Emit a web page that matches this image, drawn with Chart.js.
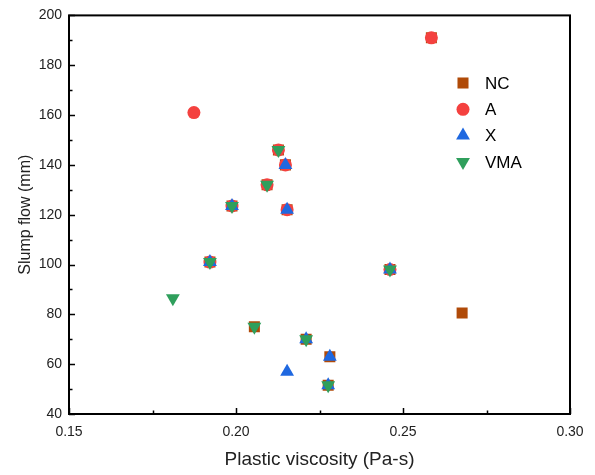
<!DOCTYPE html>
<html lang="en">
<head>
<meta charset="UTF-8">
<title>Slump flow vs plastic viscosity</title>
<script src="https://cdn.jsdelivr.net/npm/chart.js"></script>
<style>
  html, body { margin: 0; padding: 0; background: #fff; }
  #wrap { width: 595px; height: 475px; }
</style>
</head>
<body>
<div id="wrap"><canvas id="chart" width="595" height="475"></canvas></div>
<script>
// Plastic viscosity (Pa-s) and slump flow (mm) for each mix group
const ncVisc   = [0.2585, 0.2127, 0.2148, 0.2093, 0.1988, 0.2153, 0.1922, 0.2055, 0.2210, 0.2281, 0.2461, 0.2677, 0.2276];
const ncSlump  = [191, 146, 140, 132, 123.5, 122, 101, 75, 70, 63, 98, 80.5, 51.5];
const aVisc    = [0.2585, 0.1874, 0.2127, 0.2148, 0.2093, 0.1988, 0.2153, 0.1922, 0.2461];
const aSlump   = [191, 161, 146, 140, 132, 123.5, 122, 101, 98];
const xVisc    = [0.2148, 0.1988, 0.2153, 0.1922, 0.2210, 0.2281, 0.2153, 0.2276, 0.2461];
const xSlump   = [140, 123.5, 122, 101, 70, 63, 57, 51.5, 98];
const vmaVisc  = [0.2127, 0.2093, 0.1988, 0.1922, 0.1811, 0.2055, 0.2210, 0.2276, 0.2461];
const vmaSlump = [146, 132, 123.5, 101, 86.5, 75, 70, 51.5, 98];

const xTicks = [0.15, 0.20, 0.25, 0.30];
const yTicks = [40, 60, 80, 100, 120, 140, 160, 180, 200];

const FONT = "'Liberation Sans', Arial, sans-serif";

function pts(xs, ys) {
  return xs.map((x, i) => ({ x: x, y: ys[i] }));
}

// later groups are painted over earlier ones
const series = [
  { label: "NC",  data: pts(ncVisc, ncSlump),   color: "#b04a08", style: "rect",     radius: 7.8, rotation: 0 },
  { label: "A",   data: pts(aVisc, aSlump),     color: "#f4413f", style: "circle",   radius: 6.5, rotation: 0 },
  { label: "X",   data: pts(xVisc, xSlump),     color: "#1f68e0", style: "triangle", radius: 8,   rotation: 0 },
  { label: "VMA", data: pts(vmaVisc, vmaSlump), color: "#2f9f5c", style: "triangle", radius: 8,   rotation: 180 }
];

function drawShape(ctx, s, x, y) {
  const r = s.radius;
  if (s.style === "rect") {
    const h = r / Math.SQRT2;
    ctx.rect(x - h, y - h, 2 * h, 2 * h);
  } else if (s.style === "circle") {
    ctx.arc(x, y, r, 0, Math.PI * 2);
  } else {
    let ang = s.rotation * Math.PI / 180;
    for (let k = 0; k < 3; k++) {
      const px = x + Math.sin(ang) * r, py = y - Math.cos(ang) * r;
      if (k === 0) ctx.moveTo(px, py); else ctx.lineTo(px, py);
      ang += 2 * Math.PI / 3;
    }
    ctx.closePath();
  }
}

// frame, inward ticks and legend
const framePlugin = {
  id: "frame",
  afterDraw(chart) {
    const ctx = chart.ctx;
    const a = chart.chartArea;
    const xs = chart.scales.x, ys = chart.scales.y;
    ctx.save();
    ctx.strokeStyle = "#000";
    ctx.lineWidth = 2;
    ctx.strokeRect(a.left, a.top, a.right - a.left, a.bottom - a.top);

    ctx.lineWidth = 1.5;
    ctx.beginPath();
    for (let i = 0; i <= 6; i++) {
      const v = 0.15 + i * 0.025;
      const px = Math.round(xs.getPixelForValue(v)) + 0.5;
      ctx.moveTo(px, a.bottom);
      ctx.lineTo(px, a.bottom - (i % 2 === 0 ? 6 : 3.5));
    }
    for (let v = 40; v <= 200; v += 10) {
      const py = Math.round(ys.getPixelForValue(v)) + 0.5;
      ctx.moveTo(a.left, py);
      ctx.lineTo(a.left + (v % 20 === 0 ? 6 : 3.5), py);
    }
    ctx.stroke();

    // legend
    const lx = 463, ly0 = 83, step = 26.3;
    ctx.font = "17px " + FONT;
    ctx.textBaseline = "middle";
    ctx.textAlign = "left";
    series.forEach((s, i) => {
      const y = ly0 + i * step;
      ctx.fillStyle = s.color;
      ctx.beginPath();
      drawShape(ctx, s, lx, y);
      ctx.fill();
      ctx.fillStyle = "#000";
      ctx.fillText(s.label, 485, y + 1);
    });
    ctx.restore();
  }
};

new Chart(document.getElementById("chart"), {
  type: "scatter",
  data: {
    datasets: series.map((s, i) => ({
      label: s.label,
      data: s.data,
      order: series.length - i,
      pointStyle: s.style,
      pointRadius: s.radius,
      pointRotation: s.rotation,
      backgroundColor: s.color,
      borderColor: s.color,
      borderWidth: 0
    }))
  },
  options: {
    responsive: false,
    animation: false,
    devicePixelRatio: 1,
    layout: { padding: { top: 13, right: 25, left: 0, bottom: 0 } },
    plugins: {
      legend: { display: false },
      tooltip: { enabled: false }
    },
    scales: {
      x: {
        type: "linear",
        min: 0.15, max: 0.30,
        afterBuildTicks: sc => { sc.ticks = xTicks.map(v => ({ value: v })); },
        afterFit: sc => { sc.height = 61; },
        grid: { display: false, drawTicks: false },
        border: { display: false },
        ticks: {
          padding: 10,
          color: "#222",
          font: { family: FONT, size: 14 },
          callback: v => v.toFixed(2)
        },
        title: {
          display: true,
          text: "Plastic viscosity (Pa-s)",
          color: "#222",
          font: { family: FONT, size: 19 },
          padding: { top: 1, bottom: 4 }
        }
      },
      y: {
        type: "linear",
        min: 40, max: 200,
        afterBuildTicks: sc => { sc.ticks = yTicks.map(v => ({ value: v })); },
        afterFit: sc => { sc.width = 69; },
        grid: { display: false, drawTicks: false },
        border: { display: false },
        ticks: {
          padding: 7,
          color: "#222",
          font: { family: FONT, size: 14 }
        },
        title: {
          display: true,
          text: "Slump flow (mm)",
          color: "#222",
          font: { family: FONT, size: 16 },
          padding: { top: 16, bottom: 4 }
        }
      }
    }
  },
  plugins: [framePlugin]
});
</script>
</body>
</html>
